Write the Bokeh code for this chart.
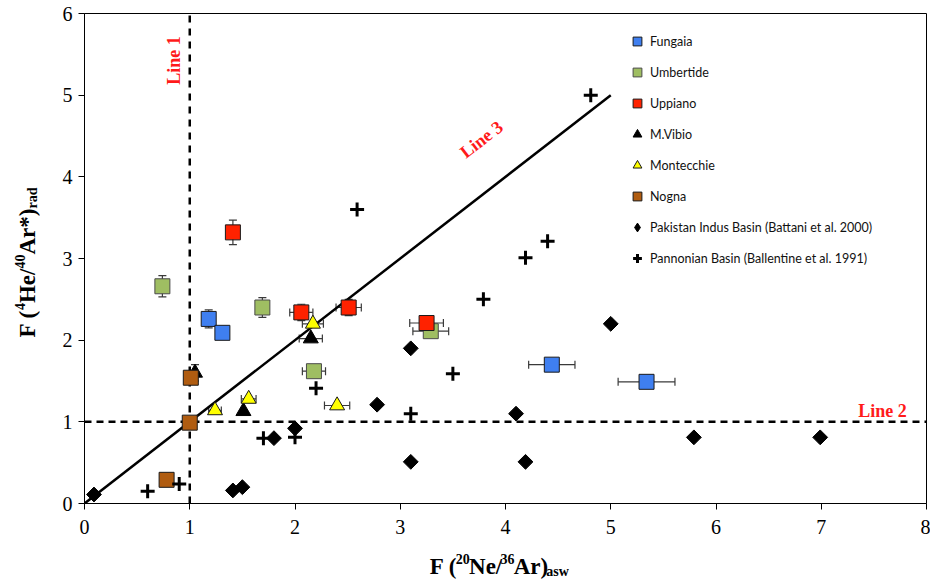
import numpy as np
from bokeh.plotting import figure
from bokeh.layouts import row, column
from bokeh.models import (Range1d, Whisker, TeeHead, ColumnDataSource, Label,
                          Legend, LegendItem, FixedTicker)
from bokeh.embed import file_html
from bokeh.resources import INLINE

# ---------------- data ----------------
fungaia_x = [1.18, 1.31, 4.44, 5.34]
fungaia_y = [2.26, 2.09, 1.70, 1.49]
fungaia_xerr = [0, 0, 0.22, 0.27]
fungaia_yerr = [0.11, 0, 0, 0]

umbertide_x = [0.74, 1.69, 2.18, 3.29]
umbertide_y = [2.66, 2.40, 1.62, 2.11]
umbertide_xerr = [0, 0, 0.11, 0.17]
umbertide_yerr = [0.13, 0.12, 0, 0]

uppiano_x = [1.41, 2.06, 2.51, 3.25]
uppiano_y = [3.32, 2.34, 2.40, 2.21]
uppiano_xerr = [0, 0.11, 0.12, 0.16]
uppiano_yerr = [0.15, 0.10, 0.10, 0]

mvibio_x = [1.05, 1.51, 2.15]
mvibio_y = [1.60, 1.13, 2.02]
mvibio_xerr = [0, 0, 0.11]
mvibio_yerr = [0.10, 0, 0]

montecchie_x = [1.24, 1.56, 2.17, 2.40]
montecchie_y = [1.14, 1.28, 2.20, 1.20]
montecchie_xerr = [0.06, 0.07, 0.10, 0.12]
montecchie_yerr = [0, 0, 0, 0]

nogna_x = [1.01, 1.00, 0.78]
nogna_y = [1.54, 0.99, 0.29]

pakistan_x = [0.09, 1.41, 1.50, 1.80, 2.00, 2.78, 3.10, 3.10, 4.10, 4.19, 5.00, 5.79, 6.99]
pakistan_y = [0.11, 0.16, 0.20, 0.80, 0.92, 1.21, 1.90, 0.51, 1.10, 0.51, 2.20, 0.81, 0.81]

pannonian_x = [0.60, 0.90, 1.70, 2.00, 2.20, 2.59, 3.10, 3.50, 3.79, 4.19, 4.40, 4.81]
pannonian_y = [0.15, 0.24, 0.80, 0.81, 1.41, 3.60, 1.10, 1.59, 2.50, 3.01, 3.21, 5.00]

line1_x = [1, 1]
line1_y = [0, 6]
line2_x = [0, 8]
line2_y = [1, 1]
line3_x = [0, 5]
line3_y = [0, 5]

x_ticks = [0, 1, 2, 3, 4, 5, 6, 7, 8]
y_ticks = [0, 1, 2, 3, 4, 5, 6]

# ---------------- geometry ----------------
W, H = 930, 583
YL_W = 40          # strip holding the y title
XL_H = 38          # strip holding the x title
FL, FR, FT, FB = 84, 926, 13, 503   # frame in page pixels
XMAX, YMAX = 8, 6
MW, MH = W - YL_W, H - XL_H

p = figure(width=MW, height=MH, output_backend="svg", toolbar_location=None,
           x_range=Range1d(0, XMAX), y_range=Range1d(0, YMAX),
           min_border_left=FL - YL_W, min_border_right=W - FR,
           min_border_top=FT, min_border_bottom=MH - FB)
p.background_fill_color = "white"
p.border_fill_color = "white"
p.outline_line_color = "black"
p.outline_line_width = 1
p.xgrid.visible = False
p.ygrid.visible = False

for ax, ticks in ((p.xaxis[0], x_ticks), (p.yaxis[0], y_ticks)):
    ax.ticker = FixedTicker(ticks=ticks)
    ax.major_label_text_font = "Liberation Serif"
    ax.major_label_text_font_size = "20px"
    ax.major_label_text_color = "black"
    ax.axis_line_color = "black"
    ax.major_tick_line_color = "black"
    ax.major_tick_out = 6
    ax.major_tick_in = 0
    ax.minor_tick_line_color = None
p.xaxis[0].major_label_standoff = 10
p.yaxis[0].major_label_standoff = 6


def dx(px):
    return (px - FL) / ((FR - FL) / XMAX)


def dy(py):
    return (FB - py) / ((FB - FT) / YMAX)


# reference lines
p.line(line1_x, line1_y, line_color="black", line_width=2.5, line_dash="7 6")
p.line(line2_x, line2_y, line_color="black", line_width=2.5, line_dash="7 5")
p.line(line3_x, line3_y, line_color="black", line_width=2.5)

EB = "#3a3a3a"


def add_errors(xs, ys, xerr, yerr):
    hx = [(x, y, e) for x, y, e in zip(xs, ys, xerr) if e > 0]
    if hx:
        src = ColumnDataSource(dict(b=[h[1] for h in hx],
                                    lo=[h[0] - h[2] for h in hx],
                                    up=[h[0] + h[2] for h in hx]))
        p.add_layout(Whisker(source=src, base="b", lower="lo", upper="up",
                             dimension="width", line_color=EB, line_width=1.2,
                             upper_head=TeeHead(size=8, line_color=EB, line_width=1.2),
                             lower_head=TeeHead(size=8, line_color=EB, line_width=1.2)))
    vy = [(x, y, e) for x, y, e in zip(xs, ys, yerr) if e > 0]
    if vy:
        src = ColumnDataSource(dict(b=[h[0] for h in vy],
                                    lo=[h[1] - h[2] for h in vy],
                                    up=[h[1] + h[2] for h in vy]))
        p.add_layout(Whisker(source=src, base="b", lower="lo", upper="up",
                             dimension="height", line_color=EB, line_width=1.2,
                             upper_head=TeeHead(size=8, line_color=EB, line_width=1.2),
                             lower_head=TeeHead(size=8, line_color=EB, line_width=1.2)))


add_errors(fungaia_x, fungaia_y, fungaia_xerr, fungaia_yerr)
add_errors(umbertide_x, umbertide_y, umbertide_xerr, umbertide_yerr)
add_errors(uppiano_x, uppiano_y, uppiano_xerr, uppiano_yerr)
add_errors(mvibio_x, mvibio_y, mvibio_xerr, mvibio_yerr)
add_errors(montecchie_x, montecchie_y, montecchie_xerr, montecchie_yerr)

r_fun = p.scatter(fungaia_x, fungaia_y, marker="square", size=15,
                  fill_color="#3f7ff0", line_color="#1a1a1a", line_width=1)
r_umb = p.scatter(umbertide_x, umbertide_y, marker="square", size=15,
                  fill_color="#9fbe62", line_color="#4a4a4a", line_width=1)
r_upp = p.scatter(uppiano_x, uppiano_y, marker="square", size=15,
                  fill_color="#ff2200", line_color="#1a1a1a", line_width=1)
r_mvi = p.scatter(mvibio_x, mvibio_y, marker="triangle", size=15,
                  fill_color="black", line_color="black", line_width=1)
r_mon = p.scatter(montecchie_x, montecchie_y, marker="triangle", size=15,
                  fill_color="#ffff00", line_color="#1a1a1a", line_width=1)
r_nog = p.scatter(nogna_x, nogna_y, marker="square", size=15,
                  fill_color="#b05c10", line_color="#1a1a1a", line_width=1)
r_pak = p.scatter(pakistan_x, pakistan_y, marker="square", size=10.5, angle=np.pi / 4,
                  fill_color="black", line_color="black", line_width=1)
r_pan = p.scatter(pannonian_x, pannonian_y, marker="cross", size=14,
                  line_color="black", line_width=3)
# hidden twin of the Pakistan series, used only for its legend swatch
# (legend swatches ignore the marker angle, so a diamond marker is used there)
r_pak_key = p.scatter(pakistan_x, pakistan_y, marker="diamond", size=14,
                      fill_color="black", line_color="black", line_width=1,
                      visible=False)

legend = Legend(items=[
    LegendItem(label="Fungaia", renderers=[r_fun]),
    LegendItem(label="Umbertide", renderers=[r_umb]),
    LegendItem(label="Uppiano", renderers=[r_upp]),
    LegendItem(label="M.Vibio", renderers=[r_mvi]),
    LegendItem(label="Montecchie", renderers=[r_mon]),
    LegendItem(label="Nogna", renderers=[r_nog]),
    LegendItem(label="Pakistan Indus Basin (Battani et al. 2000)", renderers=[r_pak_key]),
    LegendItem(label="Pannonian Basin (Ballentine et al. 1991)", renderers=[r_pan]),
], location=(626 - FL, FB - 269))
legend.glyph_width = 22
legend.glyph_height = 22
legend.label_height = 22
legend.spacing = 9
legend.padding = 0
legend.margin = 0
legend.label_standoff = 2
legend.border_line_color = None
legend.background_fill_alpha = 0
legend.inactive_fill_alpha = 0
legend.label_text_font = "Lato"
legend.label_text_font_size = "12.5px"
legend.label_text_color = "#111111"
p.add_layout(legend)

# line annotations
RED = "#ff1a1a"
for txt, px, py, ang in (("Line 1", 173, 60, np.pi / 2),
                         ("Line 2", 882, 410, 0.0),
                         ("Line 3", 481, 139, np.arctan(((FB - FT) / YMAX) / ((FR - FL) / XMAX)))):
    p.add_layout(Label(x=dx(px), y=dy(py), text=txt, angle=ang,
                       text_align="center", text_baseline="middle",
                       text_font="Liberation Serif", text_font_style="bold",
                       text_font_size="18px", text_color=RED))


def strip(w, h):
    f = figure(width=w, height=h, output_backend="svg", toolbar_location=None,
               x_range=Range1d(0, w), y_range=Range1d(0, h),
               x_axis_location=None, y_axis_location=None,
               min_border_left=0, min_border_right=0, min_border_top=0, min_border_bottom=0)
    f.outline_line_color = None
    f.grid.visible = False
    f.background_fill_color = "white"
    f.border_fill_color = "white"
    return f


# axis titles built from pieces (sub/superscripts)
BIG, SMALL = 23, 14
em = {"F (": 1.194, "Ne/": 1.444, "Ar)": 1.499, "He/": 1.5, "Ar*)": 1.999,
      "20": 1.0, "36": 1.0, "40": 1.0, "4": 0.5, "asw": 1.611, "rad": 1.5}

# x title strip: page x = YL_W + local x, page y = H - local y
xl = strip(MW, XL_H)
xt = [("F (", 0), ("20", 1), ("Ne/", 0), ("36", 1), ("Ar)", 0), ("asw", -1)]
cx = 405.0
for txt, kind in xt:
    size = BIG if kind == 0 else SMALL
    base = 566 - (8 if kind == 1 else (-5 if kind == -1 else 0))
    xl.add_layout(Label(x=cx - YL_W, y=H - base, text=txt, text_align="left",
                        text_baseline="alphabetic", text_font="Liberation Serif",
                        text_font_style="bold", text_font_size=f"{size}px",
                        text_color="black"))
    cx += em[txt] * size

# y title strip: page x = local x, page y = H - local y
yl = strip(YL_W, H)
yt = [("F (", 0), ("4", 1), ("He/", 0), ("40", 1), ("Ar*)", 0), ("rad", -1)]
cy = 337.0
for txt, kind in yt:
    size = BIG if kind == 0 else SMALL
    base = 27 - (8 if kind == 1 else (-5 if kind == -1 else 0))
    yl.add_layout(Label(x=base, y=H - cy, text=txt, angle=np.pi / 2,
                        text_align="left", text_baseline="alphabetic",
                        text_font="Liberation Serif", text_font_style="bold",
                        text_font_size=f"{size}px", text_color="black"))
    cy -= em[txt] * size

layout = row(yl, column(p, xl, spacing=0), spacing=0)
open("out.html", "w").write(file_html(layout, INLINE))
